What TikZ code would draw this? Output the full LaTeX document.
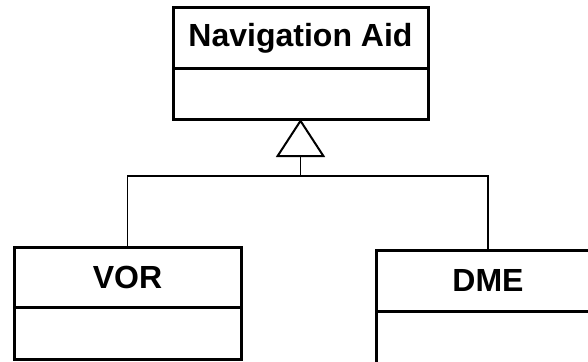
\documentclass[tikz,border=0pt]{standalone}
\usepackage{fontspec}
\setmainfont{Liberation Sans}
\usetikzlibrary{arrows.meta}
\tikzset{
  namebox/.style={draw, line width=3pt, inner sep=0pt, outer sep=0pt, font=\fontsize{32pt}{38pt}\selectfont\bfseries},
  attrbox/.style={draw, line width=3pt, inner sep=0pt, outer sep=0pt, anchor=north},
  link/.style={line width=1.5pt},
}
\begin{document}
\begin{tikzpicture}[x=1pt, y=-1pt]
        \fill[white] (0,0) rectangle (588,361);
        \useasboundingbox (0,0) rectangle (588,361);
        \clip (0,0) rectangle (588,361);
        \node[namebox, minimum width=255pt, minimum height=60pt] (nav) at (300.5,38) {Navigation Aid};
        \node[attrbox, minimum width=255pt, minimum height=51pt] (navattr) at (nav.south) {};
        \node[namebox, minimum width=227pt, minimum height=60pt] (vor) at (127.5,277) {VOR};
        \node[attrbox, minimum width=227pt, minimum height=52pt] (vorattr) at (vor.south) {};
        \node[namebox, minimum width=224pt, minimum height=61pt] (dme) at (488,280.5) {DME};
        \node[attrbox, minimum width=224pt, minimum height=52pt] (dmeattr) at (dme.south) {};
        \coordinate (split) at (300.5,176);
        \draw[link] (vor.north) |- (split) -| (dme.north);
        \draw[link, -{Triangle[open, length=38pt, width=49pt, line width=2pt]}] (split) -- (navattr.south);
    \end{tikzpicture}
\end{document}
